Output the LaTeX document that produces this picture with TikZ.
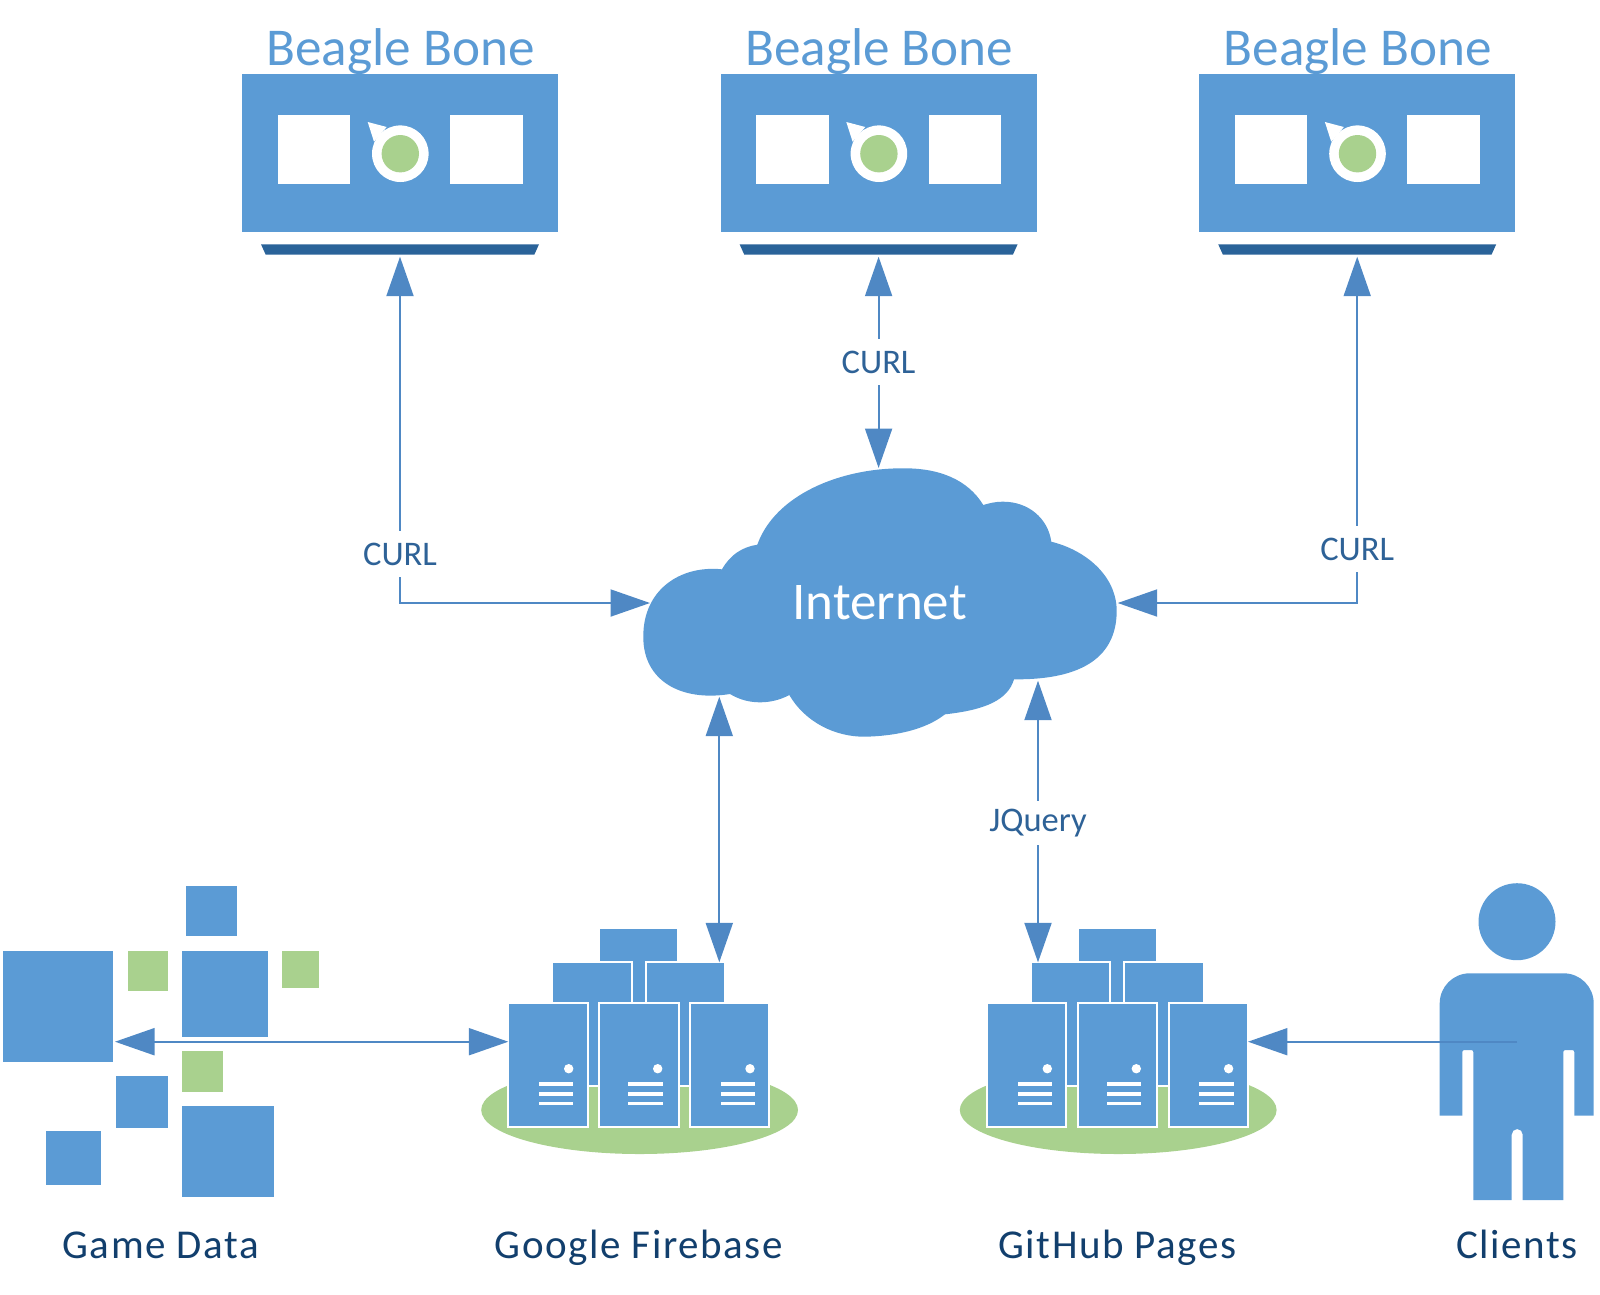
\documentclass[tikz,border=0pt]{standalone}
\usepackage{fontspec}
\setmainfont{Carlito}
\newfontfamily\spacedfont[LetterSpace=3.8]{Carlito}
\usetikzlibrary{arrows.meta}
\definecolor{boxblue}{HTML}{5B9BD5}
\definecolor{linkblue}{HTML}{4F88C4}
\definecolor{traydark}{HTML}{2A6399}
\definecolor{leafgreen}{HTML}{A9D18E}
\definecolor{curltext}{HTML}{2E6297}
\definecolor{nametext}{HTML}{123F6D}

\begin{document}
\begin{tikzpicture}
    [x=1pt,y=-1pt,
    block/.style={rectangle,fill=boxblue,inner sep=0pt,outer sep=0pt},
    leaf/.style={rectangle,fill=leafgreen,inner sep=0pt,outer sep=0pt},
    pane/.style={rectangle,fill=white,inner sep=0pt,outer sep=0pt},
    rack/.style={block,draw=white,line width=2pt},
    tray/.style={rectangle,inner sep=0pt,outer sep=0pt,minimum width=278pt,minimum height=10.4pt},
    link/.style={draw=linkblue,line width=2pt,{Triangle[length=39.5pt,width=27pt]}-{Triangle[length=39.5pt,width=27pt]}},
    onelink/.style={draw=linkblue,line width=2pt,-{Triangle[length=39.5pt,width=27pt]}},
    boardtitle/.style={text=boxblue,font=\fontsize{53.2}{60}\selectfont,anchor=base},
    curl/.style={text=curltext,fill=white,font=\fontsize{34.5}{40}\selectfont,inner sep=0pt,minimum height=46pt},
    caption/.style={text=nametext,font=\spacedfont\fontsize{41}{48}\selectfont,anchor=base}]

    \useasboundingbox (0,0) rectangle (1600,1294);

    % beagle bones
    \foreach \i/\cx in {1/400,2/878.6,3/1357.2} {
        \node[boardtitle] (title\i) at (\cx+0.5,65.7) {Beagle Bone};
        \node[block,minimum width=316pt,minimum height=158pt] (bone\i) at (\cx,153) {};
        \node[pane,minimum width=72.5pt,minimum height=69pt] (paneL\i) at (\cx-86,149.5) {};
        \node[pane,minimum width=72.5pt,minimum height=69pt] (paneR\i) at (\cx+86.5,149.5) {};
        \fill[white] (\cx-32.3,122) -- (\cx-13.3,127) -- (\cx-26,141.7) -- cycle;
        \node[circle,fill=white,inner sep=0pt,minimum size=56.6pt] (ring\i) at (\cx+0.3,153.7) {};
        \node[circle,fill=leafgreen,inner sep=0pt,minimum size=37.4pt] (eye\i) at (\cx+0.3,153.7) {};
        \node[tray] (tray\i) at (\cx,249.5) {};
        \fill[traydark] (tray\i.north west) -- (tray\i.north east) -- ([xshift=-4.7pt]tray\i.south east) -- ([xshift=4.7pt]tray\i.south west) -- cycle;
    }

    % cloud
    \fill[boxblue] (722,569.3) .. controls (680,565) and (643,590) .. (643.3,636.7)
        .. controls (643,680) and (680,702) .. (730,694)
        .. controls (740,700) and (750,702.3) .. (760,702.3)
        .. controls (770,702.3) and (780,700) .. (789.3,695)
        .. controls (805,722) and (835,737) .. (865,736.7)
        .. controls (895,736) and (925,730) .. (945,714.3)
        .. controls (985,710) and (1008,700) .. (1014,679.3)
        .. controls (1085,680) and (1117,655) .. (1116.7,610)
        .. controls (1116,575) and (1085,550) .. (1051.3,541.7)
        .. controls (1048,518) and (1028,501.7) .. (1003.3,501.7)
        .. controls (995,501.7) and (990,503) .. (983.3,505)
        .. controls (968,480) and (940,468) .. (903,468.3)
        .. controls (840,468) and (775,495) .. (757.3,544.7)
        .. controls (742,547) and (730,555) .. (722,569.3) -- cycle;
    \node[text=white,font=\fontsize{53}{60}\selectfont,anchor=base] (internet) at (879.5,619) {Internet};
    \coordinate (cloudW) at (650,603);
    \coordinate (cloudE) at (1117.7,603);
    \coordinate (cloudN) at (878.6,468);
    \coordinate (cloudSL) at (719.3,696.7);
    \coordinate (cloudSR) at (1038,680.7);
    \coordinate (rowY) at (0,1041.7);

    % server groups
    \foreach \g/\cx in {fire/638.8,hub/1117.4} {
        \node[circle,fill=leafgreen,inner sep=0pt,minimum size=88pt,xscale=3.6] (\g Pad) at (\cx+0.8,1110) {};
        \node[block,minimum width=76.7pt,minimum height=80pt] (\g Top) at (\cx,968.8) {};
        \node[rack,minimum width=79.4pt,minimum height=123.4pt] (\g MidL) at (\cx-46.8,1024) {};
        \node[rack,minimum width=79.4pt,minimum height=123.4pt] (\g MidR) at (\cx+46.6,1024) {};
        \foreach \j/\sx/\dx/\lx in {1/-90.8/20.7/8.15,2/0/18.9/6.65,3/90.85/20.35/8.2} {
            \node[rack,minimum width=79.4pt,minimum height=123.7pt] (\g Rack\j) at (\cx+\sx,1064.85) {};
            \node[circle,fill=white,inner sep=0pt,minimum size=9.4pt] (\g Dot\j) at (\cx+\sx+\dx,1068.7) {};
            \foreach \ly in {1084,1094,1103.7}
                \fill[white] (\cx+\sx+\lx-17.2,\ly-1.6) rectangle (\cx+\sx+\lx+17.2,\ly+1.6);
        }
    }

    % game data
    \node[block,minimum width=110.6pt,minimum height=110.7pt] (dataBig) at (58,1006.35) {};
    \node[block,minimum width=51pt,minimum height=50.6pt] (dataTop) at (211.8,911) {};
    \node[block,minimum width=86pt,minimum height=85.7pt] (dataMid) at (225.3,993.85) {};
    \node[leaf,minimum width=39.7pt,minimum height=39.7pt] (leafA) at (147.85,970.85) {};
    \node[leaf,minimum width=37pt,minimum height=37pt] (leafB) at (300.8,969.5) {};
    \node[leaf,minimum width=40.4pt,minimum height=40.4pt] (leafC) at (202.5,1071.5) {};
    \node[block,minimum width=52pt,minimum height=52pt] (dataSmall) at (141.7,1102.3) {};
    \node[block,minimum width=54.7pt,minimum height=54.3pt] (dataTiny) at (73.35,1157.85) {};
    \node[block,minimum width=91.7pt,minimum height=91.6pt] (dataLow) at (228.15,1151.5) {};

    % client
    \node[circle,fill=boxblue,inner sep=0pt,minimum size=77pt] (clientHead) at (1517,921.7) {};
    \fill[boxblue] (1439.7,1115.7) [rounded corners=30pt] -- (1439.7,973.3) -- (1593.7,973.3) [sharp corners]
        -- (1593.7,1115.7) -- (1574.3,1115.7) [rounded corners=2pt] -- (1574.3,1050) -- (1563.3,1050) [sharp corners]
        -- (1563.3,1200) -- (1522.7,1200) [rounded corners=5.5pt] -- (1522.7,1129) -- (1511.7,1129) [sharp corners]
        -- (1511.7,1200) -- (1473.3,1200) [rounded corners=2pt] -- (1473.3,1050) -- (1462.3,1050) [sharp corners]
        -- (1462.3,1115.7) -- cycle;
    \coordinate (clientBody) at (1517.3,1041.7);

    % links
    \draw[link,shorten <=2pt] (tray1.south) |- (cloudW);
    \draw[link,shorten <=2pt] (tray2.south) -- (cloudN);
    \draw[link,shorten <=2pt] (tray3.south) |- (cloudE);
    \draw[link] (cloudSL) -- (cloudSL |- fireMidR.north);
    \draw[link] (cloudSR) -- (cloudSR |- hubMidL.north);
    \draw[link,shorten <=1.7pt] (dataBig.east |- rowY) -- (fireRack1.west |- rowY);
    \draw[onelink] (clientBody) -- (hubRack3.east |- rowY);

    \node[curl] (curlL) at (400,554) {CURL};
    \node[curl] (curlM) at (878.6,362) {CURL};
    \node[curl] (curlR) at (1357.2,549) {CURL};
    \node[curl,minimum height=44pt] (jquery) at (1038,823) {JQuery};

    % names
    \node[caption] (gameName) at (160.7,1258.7) {Game Data};
    \node[caption] (fireName) at (638.8,1258.7) {Google Firebase};
    \node[caption] (hubName) at (1117.4,1258.7) {GitHub Pages};
    \node[caption] (clientName) at (1517,1258.7) {Clients};
\end{tikzpicture}
\end{document}
